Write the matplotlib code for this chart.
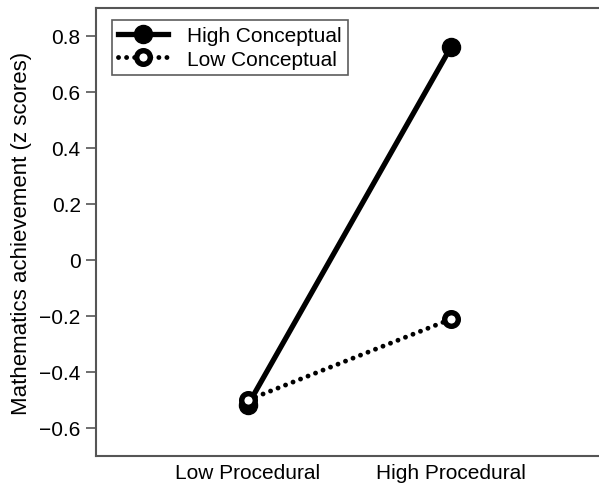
import matplotlib
matplotlib.use("Agg")
import matplotlib.pyplot as plt

plt.rcParams['font.family'] = ['Liberation Sans', 'DejaVu Sans']

# data
conditions = ["Low Procedural", "High Procedural"]
high_conceptual = [-0.517, 0.761]
low_conceptual = [-0.50, -0.211]
yticks = [-0.6, -0.4, -0.2, 0, 0.2, 0.4, 0.6, 0.8]
ytick_labels = ["\u22120.6", "\u22120.4", "\u22120.2", "0", "0.2", "0.4", "0.6", "0.8"]

fig = plt.figure(figsize=(5.99, 4.85), dpi=100)
ax = fig.add_axes([96 / 599, 1 - 457 / 485, 1 - 96 / 599, (457 - 9) / 485])

x = [1, 2]
ax.plot(x, high_conceptual, color="black", linewidth=3.8, linestyle="-",
        marker="o", markersize=13, markerfacecolor="black",
        markeredgecolor="black", markeredgewidth=1,
        label="High Conceptual", zorder=3)
ax.plot(x, low_conceptual, color="black", linewidth=3.5,
        linestyle=(0, (0.01, 1.65)), dash_capstyle="round",
        marker="o", markersize=9.8, markerfacecolor="white",
        markeredgecolor="black", markeredgewidth=3.9,
        label="Low Conceptual", zorder=4)

ax.set_xlim(0.251, 2.729)
ax.set_ylim(-0.7, 0.9)
ax.set_xticks(x)
ax.set_xticklabels(conditions, fontsize=15)
ax.set_yticks(yticks)
ax.set_yticklabels(ytick_labels, fontsize=15)
ax.tick_params(axis="x", length=0, pad=5)
ax.tick_params(axis="y", length=7, width=1.2, color="#555555", pad=4)
ax.set_ylabel("Mathematics achievement (z scores)", fontsize=16, labelpad=5)

for side in ["left", "top", "bottom"]:
    ax.spines[side].set_color("#555555")
    ax.spines[side].set_linewidth(1.5)
ax.spines["right"].set_visible(False)

leg = ax.legend(loc="upper left", fontsize=15, frameon=True, fancybox=False,
                edgecolor="#333333", handlelength=2.4, borderpad=0.3,
                labelspacing=0.2, handletextpad=0.9, borderaxespad=0,
                bbox_to_anchor=(0.032, 0.973))
leg.get_frame().set_linewidth(1.2)

fig.savefig("out.png", dpi=100)
